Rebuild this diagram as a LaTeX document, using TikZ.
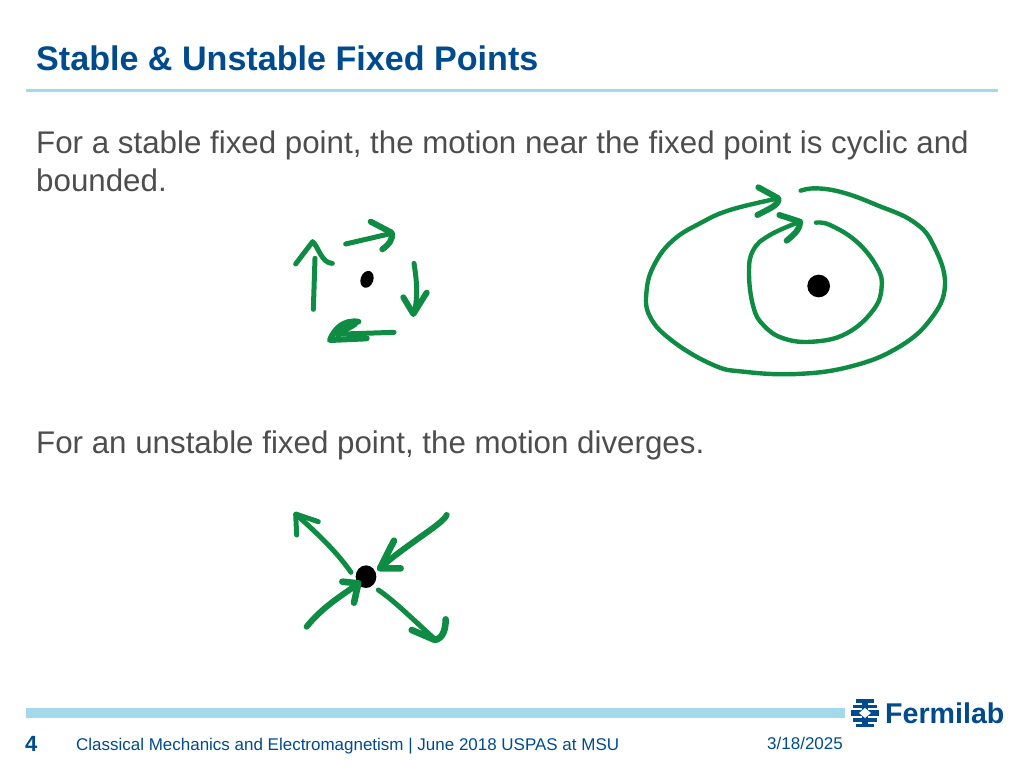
\documentclass[tikz,border=0pt]{standalone}
\usepackage{fontspec}
\setmainfont{Liberation Sans}
\usepackage{xcolor}
\definecolor{titleblue}{HTML}{004B8D}
\definecolor{rulecyan}{HTML}{A3DAEB}
\definecolor{bodygray}{HTML}{4D4D4D}
\definecolor{inkgreen}{HTML}{0F8C43}
\tikzset{
  ink/.style = {draw=inkgreen, line width=5pt, line cap=round, line join=round},
  inkthin/.style = {ink, line width=4.4pt},
  inkhead/.style = {ink, line width=6pt},
  slide text/.style = {anchor=base west, inner sep=0pt, text=bodygray, font=\fontsize{31.3}{36}\selectfont}
}
\begin{document}
\begin{tikzpicture}[x=1pt, y=-1pt]
\useasboundingbox (0,0) rectangle (1024,768);
% title
\node[anchor=base west, inner sep=0pt, text=titleblue, font=\fontsize{34.1}{38}\selectfont\bfseries] (title) at (36,70.5) {Stable \& Unstable Fixed Points};
\fill[rulecyan] (26,89) rectangle (998,92);
% text
\node[slide text] (stabletext) at (36,153) {For a stable fixed point, the motion near the fixed point is cyclic and};
\node[slide text] (boundedtext) at (36,191) {bounded.};
\node[slide text] (unstabletext) at (36,453) {For an unstable fixed point, the motion diverges.};
% stable, small arrows
\begin{scope}[shift={(280,200)}, scale=1/3]
\fill[rotate around={-20:(261,238)}] (261,238) ellipse (19 and 26);
\draw[ink] (100,328) -- (105,175);
\draw[ink] (47,192) -- (75,155) -- (98,125) .. controls (115,140) and (125,190) .. (157,190);
\draw[ink] (197,132) -- (335,100);
\draw[inkhead] (272,65) -- (335,98) .. controls (340,120) and (325,135) .. (307,148);
\draw[ink] (402,190) .. controls (410,240) and (415,290) .. (402,340);
\draw[inkhead] (370,292) -- (400,342) -- (440,278);
\draw[ink] (342,397) -- (190,402);
\draw[inkhead] (235,365) .. controls (190,360) and (165,385) .. (150,420) -- (260,415);
\draw[inkhead] (175,405) .. controls (185,392) and (205,385) .. (225,372);
\end{scope}
% stable, spiral
\begin{scope}[shift={(630,170)}, scale=1/3]
\fill (566,348) circle (34);
\draw[inkthin] plot[smooth, tension=0.7] coordinates {(512,62) (560,55) (640,68) (740,105) (850,155) (910,225) (945,345) (900,450) (800,535) (660,590) (500,612) (340,605) (250,585) (130,515) (60,440) (50,360) (75,280) (130,210) (210,160) (300,120) (445,85)};
\draw[inkhead] (385,52) -- (445,85) .. controls (450,105) and (410,120) .. (382,135);
\draw[inkthin] plot[smooth, tension=0.7] coordinates {(558,158) (600,165) (680,215) (740,290) (755,350) (730,420) (650,490) (550,515) (460,505) (400,465) (370,410) (357,310) (370,240) (420,195) (510,155)};
\draw[inkhead] (448,135) -- (510,155) .. controls (510,180) and (490,195) .. (470,212);
\end{scope}
% unstable
\begin{scope}[shift={(280,500)}, scale=1/3]
\fill (258,230) ellipse (31 and 34);
\draw[ink] (213,217) .. controls (180,170) and (140,125) .. (50,45);
\draw[ink] (50,105) -- (47,42) -- (115,65);
\draw[inkhead] (500,45) .. controls (490,70) and (400,120) .. (310,195);
\draw[inkhead, line width=6.6pt] (342,122) -- (300,205) -- (362,205);
\draw[inkhead] (80,380) .. controls (120,330) and (170,295) .. (230,255);
\draw[inkhead, line width=6.6pt] (187,245) -- (235,250) -- (222,308);
\draw[ink] (295,270) .. controls (340,300) and (390,350) .. (465,418);
\draw[inkhead, line width=6.6pt] (395,390) -- (465,420) .. controls (490,415) and (497,385) .. (497,358);
\end{scope}
% footer
\fill[rulecyan] (26,708) rectangle (845,718);
\begin{scope}[shift={(865,713)}]
\fill[titleblue] (-14,-3) rectangle (14,3);
\fill[titleblue] (-3,-14) rectangle (3,14);
\foreach \sy in {-1,1} {
  \fill[titleblue] (-9,\sy*14) rectangle (9,\sy*10.5);
  \fill[titleblue] (-12,\sy*8.5) rectangle (12,\sy*5);
}
\fill[white] (-6,0) -- (0,-5) -- (6,0) -- (0,5) -- cycle;
\end{scope}
\node[anchor=base west, inner sep=0pt, text=titleblue, font=\fontsize{28.6}{32}\selectfont\bfseries] (logotext) at (885,723) {Fermilab};
\node[anchor=base west, inner sep=0pt, text=titleblue, font=\fontsize{22}{24}\selectfont\bfseries] (pagenum) at (25,751) {4};
\node[anchor=base west, inner sep=0pt, text=titleblue, font=\fontsize{16.98}{20}\selectfont] (footertext) at (76,750) {Classical Mechanics and Electromagnetism | June 2018 USPAS at MSU};
\node[anchor=base west, inner sep=0pt, text=titleblue, font=\fontsize{17}{20}\selectfont] (datetext) at (767,749) {3/18/2025};
\end{tikzpicture}
\end{document}
